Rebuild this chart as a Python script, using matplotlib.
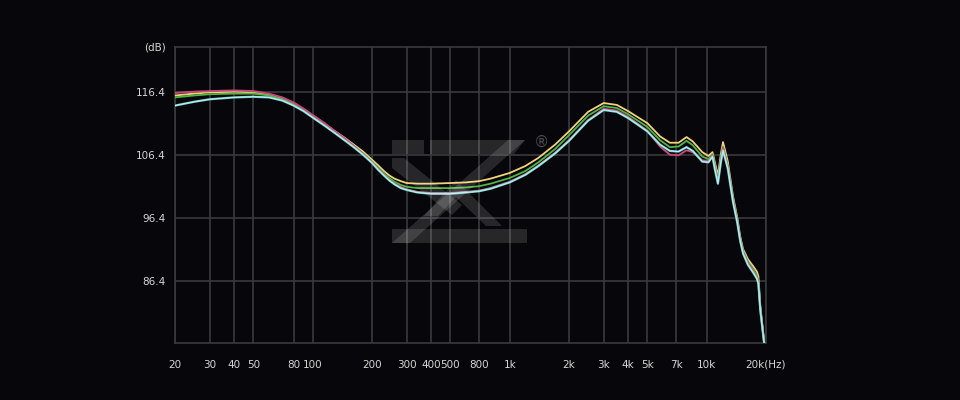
import matplotlib
matplotlib.use("Agg")
import matplotlib.pyplot as plt
from matplotlib.patches import Polygon

# frequency points (Hz)
freq = [20, 25, 30, 40, 50, 60, 70, 80, 90, 100, 115, 130, 145, 160, 180, 200,
        215, 230, 245, 260, 280, 300, 340, 400, 500, 600, 700, 800, 1000,
        1200, 1400, 1700, 2000, 2500, 3000, 3500, 4000, 5000, 5800, 6500,
        7200, 7900, 8500, 9500, 10200, 10700, 11000, 11400, 11800, 12100,
        12800, 13600, 14300, 14800, 15300, 16200, 17200, 18000, 18300, 18700,
        19600, 20000]

# SPL (dB) of the four curves
yellow = [115.9, 116.2, 116.4, 116.5, 116.4, 116.0, 115.4, 114.6, 113.7, 112.7,
          111.4, 110.2, 109.2, 108.2, 107.0, 105.7, 104.8, 103.9, 103.2, 102.7,
          102.3, 102.0, 101.9, 101.9, 102.0, 102.1, 102.3, 102.7, 103.6, 104.7,
          106.0, 108.1, 110.2, 113.3, 114.7, 114.4, 113.4, 111.5, 109.4, 108.4,
          108.4, 109.3, 108.6, 106.9, 106.3, 106.9, 105.3, 103.2, 106.6, 108.5,
          105.4, 99.9, 96.5, 93.5, 91.5, 89.9, 88.8, 87.9, 87.2, 82.6, 76.6,
          73.0]
green = [115.6, 115.9, 116.1, 116.2, 116.2, 115.9, 115.3, 114.5, 113.6, 112.6,
         111.3, 110.1, 109.0, 108.0, 106.7, 105.4, 104.4, 103.5, 102.8, 102.2,
         101.7, 101.4, 101.2, 101.2, 101.2, 101.3, 101.5, 101.9, 102.8, 103.9,
         105.3, 107.4, 109.6, 112.7, 114.2, 113.9, 112.9, 110.9, 108.8, 107.7,
         107.8, 108.7, 108.0, 106.2, 105.8, 106.6, 104.8, 102.5, 105.9, 107.8,
         104.8, 99.5, 96.1, 93.2, 91.2, 89.5, 88.3, 87.3, 86.5, 82.2, 76.5,
         73.0]
pink = [116.3, 116.5, 116.6, 116.7, 116.6, 116.2, 115.6, 114.8, 113.8, 112.8,
        111.5, 110.2, 109.1, 108.0, 106.6, 105.3, 104.2, 103.3, 102.5, 101.9,
        101.4, 101.0, 100.6, 100.4, 100.4, 100.6, 100.8, 101.2, 102.2, 103.4,
        104.8, 106.8, 108.8, 112.0, 113.8, 113.5, 112.5, 110.3, 107.8, 106.5,
        106.4, 107.2, 106.9, 105.6, 105.5, 106.4, 104.5, 102.2, 105.6, 107.6,
        104.6, 99.3, 96.0, 93.0, 91.0, 89.3, 88.0, 87.0, 86.2, 82.0, 76.4,
        73.0]
cyan = [114.3, 114.9, 115.3, 115.6, 115.7, 115.6, 115.1, 114.3, 113.4, 112.4,
        111.1, 109.9, 108.8, 107.8, 106.5, 105.2, 104.1, 103.2, 102.4, 101.8,
        101.2, 100.9, 100.5, 100.3, 100.3, 100.5, 100.7, 101.1, 102.1, 103.3,
        104.7, 106.7, 108.7, 111.9, 113.6, 113.3, 112.3, 110.2, 108.1, 107.1,
        107.0, 107.7, 107.1, 105.4, 105.3, 106.2, 104.2, 101.9, 105.3, 107.2,
        104.3, 99.0, 95.7, 92.8, 90.8, 89.0, 87.8, 86.8, 86.0, 81.9, 76.4,
        73.0]

xticks = [20, 30, 40, 50, 80, 100, 200, 300, 400, 500, 700, 1000, 2000, 3000,
          4000, 5000, 7000, 10000, 20000]
xlabels = ['20', '30', '40', '50', '80', '100', '200', '300', '400', '500',
           '800', '1k', '2k', '3k', '4k', '5k', '7k', '10k', '20k(Hz)']
yticks = [86.4, 96.4, 106.4, 116.4]

bg = '#07070b'
gridc = '#3a3a3c'
textc = '#d6d6d6'

fig = plt.figure(figsize=(9.6, 4), dpi=100, facecolor=bg)
ax = fig.add_axes([175/960, 57/400, 591/960, 296/400], facecolor=bg)

# KZ watermark (pixel coords -> figure fraction)
def px(pts):
    return [(x/960, 1 - y/400) for x, y in pts]

wm = dict(closed=True, transform=fig.transFigure, facecolor='white',
          alpha=0.13, edgecolor='none', zorder=0)
shapes = [
    [(392, 140), (424, 140), (424, 154), (392, 154)],            # top left
    [(430, 140), (525, 140), (514, 154), (430, 154)],            # top bar
    [(508, 140), (525, 140), (410, 243), (392, 243)],            # diagonal
    [(392, 229), (527, 229), (527, 243), (392, 243)],            # bottom bar
    [(392, 158), (404, 158), (462, 205), (452, 215), (392, 168)],  # K arm
    [(456, 180), (502, 226), (486, 226), (456, 197), (438, 216), (424, 216)],
]
for s in shapes:
    fig.patches.append(Polygon(px(s), **wm))
fig.text(542/960, 1 - 142/400, '®', color='#4a4a4a', fontsize=11,
         ha='center', va='center')

ax.semilogx(freq, yellow, color='#f2d27c', lw=1.3, zorder=3)
ax.semilogx(freq, green, color='#4fb640', lw=1.3, zorder=3)
ax.semilogx(freq, pink, color='#c8467a', lw=1.4, zorder=3)
ax.semilogx(freq, cyan, color='#72d2d0', lw=1.6, zorder=4)
ax.semilogx(freq, cyan, color='#e4f2f4', lw=0.5, zorder=4)

ax.set_xlim(20, 20000)
ax.set_ylim(76.6, 123.6)
ax.set_xticks(xticks)
ax.set_xticklabels(xlabels)
ax.minorticks_off()
ax.set_yticks(yticks)
ax.set_yticklabels([f'{v:.1f}' for v in yticks])
ax.grid(True, color=gridc, lw=1.2, zorder=1)
ax.set_axisbelow(True)
for sp in ax.spines.values():
    sp.set_color(gridc)
    sp.set_linewidth(1.2)
ax.tick_params(axis='both', length=0, colors=textc, labelsize=7.5)
ax.tick_params(axis='x', pad=12)
ax.tick_params(axis='y', pad=7)

fig.text(155/960, 1 - 48/400, '(dB)', color=textc, fontsize=7.5,
         ha='center', va='center')

fig.savefig('out.png', dpi=100, facecolor=bg)
